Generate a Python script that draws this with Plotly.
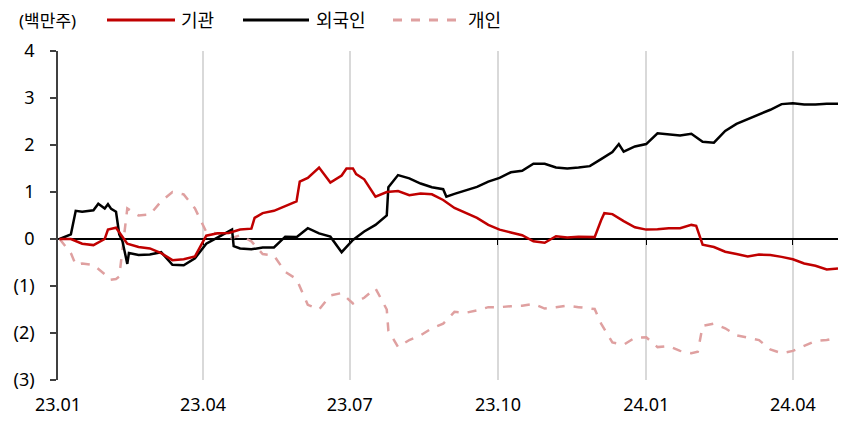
import pandas as pd
import plotly.graph_objects as go

# weekly observation dates (Mondays), 2023-01-02 .. 2024-04-29
dates = pd.date_range("2023-01-02", periods=70, freq="7D")

# cumulative net buying, million shares (weekly readings)
inst = [0.0, 0.0, -0.1, -0.13, 0.0, 0.24, -0.1, -0.17, -0.2, -0.3,
        -0.45, -0.43, -0.37, 0.07, 0.12, 0.13, 0.2, 0.22, 0.55, 0.6,
        0.7, 0.8, 1.3, 1.52, 1.2, 1.35, 1.5, 1.27, 0.9, 1.0,
        1.02, 0.93, 0.97, 0.95, 0.83, 0.66, 0.56, 0.45, 0.3, 0.2,
        0.14, 0.08, -0.05, -0.08, 0.06, 0.03, 0.05, 0.05, 0.4, 0.53,
        0.38, 0.25, 0.2, 0.21, 0.23, 0.23, 0.3, -0.12, -0.17, -0.27,
        -0.32, -0.37, -0.33, -0.34, -0.38, -0.43, -0.52, -0.57, -0.65, -0.63]

foreign = [0.0, 0.1, 0.58, 0.61, 0.65, 0.58, -0.53, -0.34, -0.33, -0.28,
           -0.55, -0.56, -0.41, -0.1, 0.03, 0.15, -0.2, -0.22, -0.18, -0.18,
           0.05, 0.04, 0.23, 0.12, 0.05, -0.28, -0.02, 0.16, 0.3, 0.5,
           1.36, 1.29, 1.18, 1.1, 1.06, 0.96, 1.04, 1.11, 1.22, 1.3,
           1.42, 1.45, 1.6, 1.6, 1.52, 1.5, 1.52, 1.55, 1.7, 1.85,
           1.86, 1.97, 2.02, 2.25, 2.22, 2.2, 2.24, 2.07, 2.05, 2.3,
           2.45, 2.55, 2.66, 2.75, 2.87, 2.89, 2.86, 2.86, 2.88, 2.88]

retail = [0.0, -0.3, -0.52, -0.55, -0.75, -0.85, 0.65, 0.5, 0.52, 0.8,
          1.0, 0.95, 0.65, 0.15, 0.12, 0.0, 0.08, -0.05, -0.32, -0.35,
          -0.7, -0.85, -1.4, -1.5, -1.2, -1.15, -1.37, -1.25, -1.05, -1.5,
          -2.3, -2.15, -2.05, -1.9, -1.8, -1.55, -1.57, -1.52, -1.45, -1.45,
          -1.43, -1.42, -1.38, -1.48, -1.45, -1.42, -1.45, -1.47, -1.8, -2.2,
          -2.25, -2.1, -2.09, -2.3, -2.28, -2.38, -2.43, -1.85, -1.8, -1.9,
          -2.05, -2.1, -2.15, -2.35, -2.43, -2.38, -2.28, -2.17, -2.15, -2.1]

# extra readings around sharp moves
inst_extra_dates = ["2023-02-01", "2023-02-08", "2023-05-03", "2023-05-31", "2023-06-29",
                    "2023-07-05", "2023-11-30", "2023-12-06", "2024-02-01"]
inst_extra = [0.2, 0.15, 0.45, 1.22, 1.5, 1.38, 0.04, 0.55, 0.28]

foreign_extra_dates = ["2023-01-12", "2023-01-26", "2023-02-01", "2023-02-03", "2023-02-08",
                       "2023-02-10", "2023-02-14", "2023-03-09", "2023-04-19", "2023-04-20",
                       "2023-07-25", "2023-08-30", "2023-12-15"]
foreign_extra = [0.6, 0.75, 0.74, 0.64, 0.1, -0.05, -0.3, -0.4, 0.2, -0.15, 1.1, 0.9, 2.02]

retail_extra_dates = ["2023-01-12", "2023-02-02", "2023-02-08", "2023-07-25", "2023-11-30",
                      "2024-02-02"]
retail_extra = [-0.55, -0.87, -0.8, -1.95, -1.49, -2.4]

series_names = ["기관", "외국인", "개인"]
tick_dates = ["2023-01-01", "2023-04-01", "2023-07-01", "2023-10-01", "2024-01-01", "2024-04-01"]
tick_labels = ["23.01", "23.04", "23.07", "23.10", "24.01", "24.04"]
y_ticks = [-3, -2, -1, 0, 1, 2, 3, 4]
y_labels = ["(3)", "(2)", "(1)", "0", "1", "2", "3", "4"]
unit_label = "(백만주)"

RED = "#C00000"
BLACK = "#000000"
PINK = "#DFA0A0"
FONT = "Noto Sans, Noto Sans CJK KR, sans-serif"
FS = 18


def merged(weekly, extra_dates, extra_vals):
    s = pd.Series(weekly, index=dates)
    e = pd.Series(extra_vals, index=pd.to_datetime(extra_dates))
    s = pd.concat([s, e])
    s = s[~s.index.duplicated(keep="last")].sort_index()
    return s.index, s.values


fig = go.Figure()

# invisible trace to carry the zero-line axis
fig.add_trace(go.Scatter(x=[dates[0]], y=[0], xaxis="x2", mode="markers",
                         marker=dict(opacity=0), hoverinfo="skip", showlegend=False))

rx, ry = merged(retail, retail_extra_dates, retail_extra)
fx, fy = merged(foreign, foreign_extra_dates, foreign_extra)
ix, iy = merged(inst, inst_extra_dates, inst_extra)

fig.add_trace(go.Scatter(x=rx, y=ry, name=series_names[2], mode="lines",
                         line=dict(color=PINK, width=2.5, dash="dash")))
fig.add_trace(go.Scatter(x=fx, y=fy, name=series_names[1], mode="lines",
                         line=dict(color=BLACK, width=2.5)))
fig.add_trace(go.Scatter(x=ix, y=iy, name=series_names[0], mode="lines",
                         line=dict(color=RED, width=2.5)))

x_range = ["2023-01-01", "2024-04-29"]

# page has an 8px body margin; figure sized so the plot area lands at x 58-838, y 51-380
fig.update_layout(
    width=839, height=412,
    margin=dict(l=50, r=9, t=43, b=40, autoexpand=False),
    paper_bgcolor="white", plot_bgcolor="white",
    showlegend=False,
    font=dict(family=FONT, size=FS, color="#000000"),
    xaxis=dict(type="date", range=x_range, tickvals=tick_dates, ticktext=tick_labels,
               showgrid=True, gridcolor="#D9D9D9", gridwidth=2, showline=False,
               ticks="", zeroline=False, ticklabelstandoff=12, automargin=False,
               tickfont=dict(family=FONT, size=FS, color="#000000")),
    xaxis2=dict(type="date", overlaying="x", matches="x", anchor="free", position=3/7,
                showline=True, linecolor="#000000", linewidth=1.5, ticks="outside",
                ticklen=5, tickwidth=1.2, tickcolor="#000000", tickvals=tick_dates[1:],
                showticklabels=False, showgrid=False, zeroline=False, layer="below traces",
                automargin=False),
    yaxis=dict(range=[-3, 4], tickvals=y_ticks, ticktext=y_labels, showgrid=False,
               zeroline=False, showline=True, linecolor="#404040", linewidth=1.5,
               ticks="outside", ticklen=6, tickwidth=1.5, tickcolor="#404040",
               ticklabelstandoff=12, automargin=False,
               tickfont=dict(family=FONT, size=FS, color="#000000")),
)

# legend drawn as header decoration (page pixel -> paper fraction)
def px_x(px):
    return (px - 58) / 780

def px_y(py):
    return (380 - py) / 329

legend_items = [(107, 175, RED, "solid", series_names[0], 180),
                (243, 309, BLACK, "solid", series_names[1], 315),
                (393, 459, PINK, "dash", series_names[2], 467)]
for x0, x1, col, dash, txt, tx in legend_items:
    fig.add_shape(type="line", xref="paper", yref="paper",
                  x0=px_x(x0), x1=px_x(x1), y0=px_y(20), y1=px_y(20),
                  line=dict(color=col, width=3, dash=dash))
    fig.add_annotation(text=txt, xref="paper", yref="paper", x=px_x(tx), y=px_y(20),
                       xanchor="left", yanchor="middle", showarrow=False, borderpad=0,
                       font=dict(family=FONT, size=FS, color="#000000"))

fig.add_annotation(text=unit_label, xref="paper", yref="paper", x=px_x(77), y=px_y(20),
                   xanchor="right", yanchor="middle", showarrow=False, borderpad=0,
                   font=dict(family=FONT, size=17, color="#000000"))

fig.write_html("out.html")
